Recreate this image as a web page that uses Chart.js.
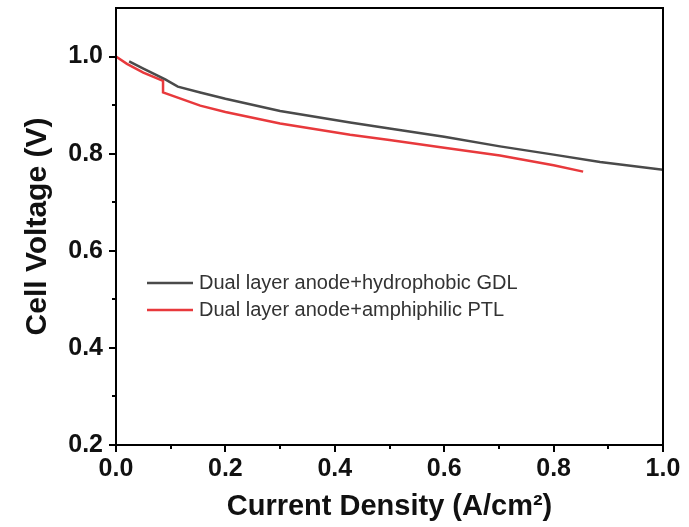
<!DOCTYPE html>
<html>
<head>
<meta charset="utf-8">
<script src="https://cdn.jsdelivr.net/npm/chart.js@4"></script>
<style>
  html, body { margin: 0; padding: 0; background: #fff; }
  #wrap { width: 689px; height: 527px; position: relative; }
</style>
</head>
<body>
<div id="wrap"><canvas id="pol"></canvas></div>
<script>
// ---- data ----
const hydroX = [0.024, 0.05, 0.09, 0.113, 0.154, 0.2, 0.3, 0.428, 0.5, 0.6, 0.702, 0.8, 0.885, 1.0];
const hydroY = [0.990, 0.975, 0.953, 0.938, 0.926, 0.913, 0.888, 0.864, 0.852, 0.835, 0.815, 0.798, 0.783, 0.767];
const amphiX = [0.0, 0.02, 0.05, 0.086, 0.086, 0.154, 0.2, 0.3, 0.428, 0.5, 0.6, 0.702, 0.8, 0.854];
const amphiY = [1.0, 0.985, 0.967, 0.950, 0.926, 0.899, 0.886, 0.862, 0.839, 0.828, 0.812, 0.796, 0.776, 0.763];
const seriesLabels = ['Dual layer anode+hydrophobic GDL', 'Dual layer anode+amphiphilic PTL'];
const seriesColors = ['#4a4a4a', '#e8393c'];
const xTicks = [0.0, 0.2, 0.4, 0.6, 0.8, 1.0];
const xMinor = [0.1, 0.3, 0.5, 0.7, 0.9];
const yTicks = [0.2, 0.4, 0.6, 0.8, 1.0];
const yMinor = [0.3, 0.5, 0.7, 0.9];

const pts = (xs, ys) => xs.map((x, i) => ({x: x, y: ys[i]}));

// frame + minor ticks + inline legend
const framePlugin = {
  id: 'frame',
  afterDraw(chart) {
    const {ctx, chartArea: a, scales} = chart;
    ctx.save();
    ctx.strokeStyle = '#000';
    ctx.lineWidth = 2;
    ctx.strokeRect(a.left, a.top, a.right - a.left, a.bottom - a.top);
    ctx.beginPath();
    xMinor.forEach(v => {
      const px = Math.round(scales.x.getPixelForValue(v));
      ctx.moveTo(px, a.bottom); ctx.lineTo(px, a.bottom + 4);
    });
    yMinor.forEach(v => {
      const py = Math.round(scales.y.getPixelForValue(v));
      ctx.moveTo(a.left, py); ctx.lineTo(a.left - 4, py);
    });
    ctx.stroke();

    // legend
    ctx.font = '20px "Liberation Sans", Arial, sans-serif';
    ctx.textBaseline = 'middle';
    chart.data.datasets.forEach((ds, i) => {
      const y = a.top + 275 + i * 27;
      ctx.strokeStyle = ds.borderColor;
      ctx.lineWidth = 2.5;
      ctx.beginPath();
      ctx.moveTo(a.left + 31, y); ctx.lineTo(a.left + 77, y);
      ctx.stroke();
      ctx.fillStyle = '#333';
      ctx.fillText(ds.label, a.left + 83, y);
    });
    ctx.restore();
  }
};

const tickFont = {family: '"Liberation Sans", Arial, sans-serif', size: 25, weight: 'bold'};
const xTitleFont = {family: '"Liberation Sans", Arial, sans-serif', size: 29, weight: 'bold'};
const yTitleFont = {family: '"Liberation Sans", Arial, sans-serif', size: 30, weight: 'bold'};

new Chart(document.getElementById('pol'), {
  type: 'line',
  data: {
    datasets: [
      {label: seriesLabels[0], data: pts(hydroX, hydroY), borderColor: seriesColors[0], borderWidth: 2.5, pointRadius: 0, tension: 0, fill: false},
      {label: seriesLabels[1], data: pts(amphiX, amphiY), borderColor: seriesColors[1], borderWidth: 2.5, pointRadius: 0, tension: 0, fill: false}
    ]
  },
  options: {
    responsive: true,
    maintainAspectRatio: false,
    animation: false,
    layout: {padding: {top: 8, right: 26, left: 0, bottom: 0}},
    plugins: {legend: {display: false}, tooltip: {enabled: false}},
    scales: {
      x: {
        type: 'linear', min: 0, max: 1,
        afterBuildTicks: s => { s.ticks = xTicks.map(v => ({value: v})); },
        afterFit: s => { s.height = 82; },
        ticks: {font: tickFont, color: '#111', padding: 2, callback: v => v.toFixed(1), maxRotation: 0},
        grid: {drawOnChartArea: false, tickLength: 7, color: '#000', lineWidth: 2},
        border: {color: '#000', width: 2},
        title: {display: true, text: 'Current Density (A/cm²)', font: xTitleFont, color: '#111', padding: {top: 0, bottom: 3}}
      },
      y: {
        type: 'linear', min: 0.2, max: 1.1,
        afterBuildTicks: s => { s.ticks = yTicks.map(v => ({value: v})); },
        afterFit: s => { s.width = 116; s.paddingTop = 0; s.paddingBottom = 0; },
        ticks: {font: tickFont, color: '#111', padding: 6, callback: v => v.toFixed(1)},
        grid: {drawOnChartArea: false, tickLength: 7, color: '#000', lineWidth: 2},
        border: {color: '#000', width: 2},
        title: {display: true, text: 'Cell Voltage (V)', font: yTitleFont, color: '#111', padding: {top: 20, bottom: 0}}
      }
    }
  },
  plugins: [framePlugin]
});
</script>
</body>
</html>
